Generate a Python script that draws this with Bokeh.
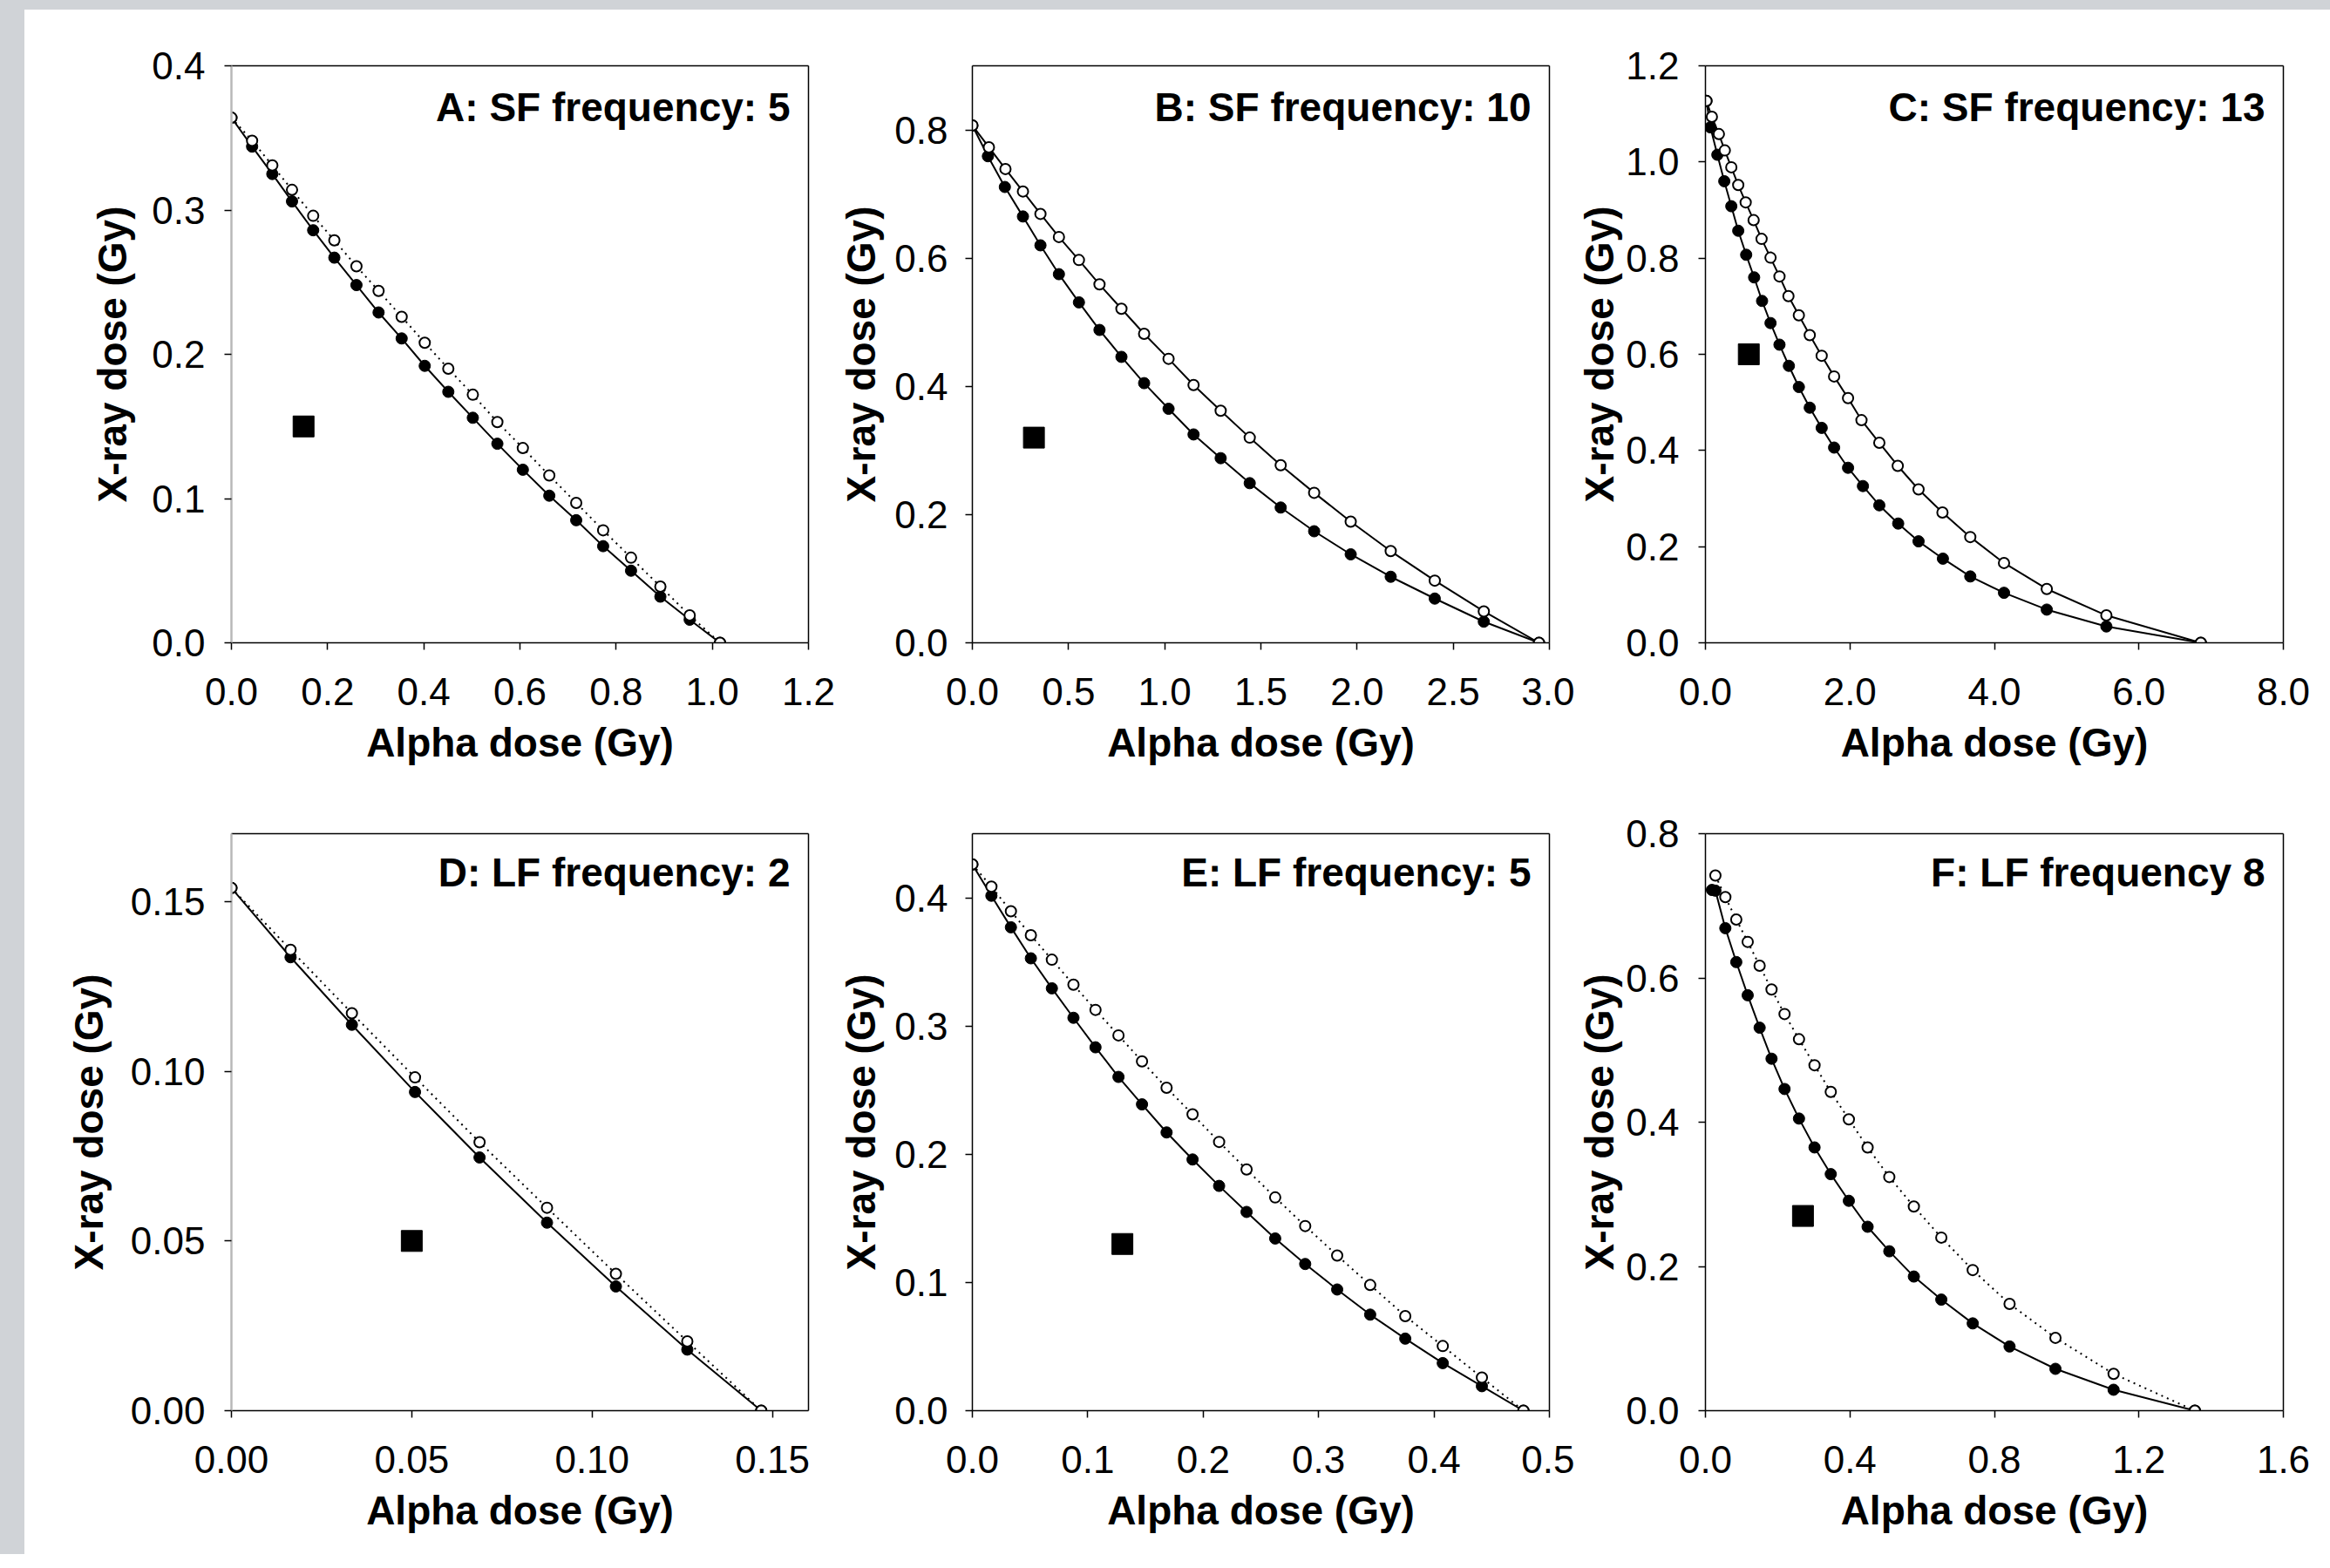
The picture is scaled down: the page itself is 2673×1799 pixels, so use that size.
from bokeh.plotting import figure
from bokeh.models import (FixedTicker, PrintfTickFormatter, Label, Range1d, Spacer,
                          LinearAxis)
from bokeh.layouts import row, column
from bokeh.embed import file_html
from bokeh.resources import INLINE

# ---------------- data ----------------
# Panel A: SF frequency 5
a_open_x = [0.0, 0.043, 0.085, 0.126, 0.170, 0.214, 0.260, 0.306, 0.354, 0.402, 0.451,
            0.502, 0.553, 0.606, 0.661, 0.717, 0.773, 0.831, 0.892, 0.953, 1.016]
a_open_y = [0.364, 0.348, 0.331, 0.314, 0.296, 0.279, 0.261, 0.244, 0.226, 0.208, 0.190,
            0.172, 0.153, 0.135, 0.116, 0.097, 0.078, 0.059, 0.039, 0.019, 0.0]
a_fill_x = a_open_x
a_fill_y = [0.364, 0.344, 0.325, 0.306, 0.286, 0.267, 0.248, 0.229, 0.211, 0.192, 0.174,
            0.156, 0.138, 0.120, 0.102, 0.085, 0.067, 0.050, 0.032, 0.016, 0.0]
a_square = (0.15, 0.15)

# Panel B: SF frequency 10
b_open_x = [0.0, 0.086, 0.172, 0.263, 0.354, 0.450, 0.554, 0.661, 0.775, 0.893, 1.020,
            1.150, 1.291, 1.442, 1.603, 1.777, 1.967, 2.175, 2.404, 2.659, 2.946]
b_open_y = [0.807, 0.773, 0.739, 0.704, 0.669, 0.633, 0.597, 0.559, 0.521, 0.482, 0.443,
            0.402, 0.362, 0.320, 0.277, 0.234, 0.189, 0.143, 0.097, 0.049, 0.0]
b_fill_x = [0.0, 0.081, 0.169, 0.263, 0.354, 0.450, 0.554, 0.661, 0.775, 0.893, 1.020,
            1.150, 1.291, 1.442, 1.603, 1.777, 1.967, 2.175, 2.404, 2.659, 2.946]
b_fill_y = [0.807, 0.759, 0.711, 0.665, 0.620, 0.575, 0.531, 0.488, 0.446, 0.405, 0.365,
            0.325, 0.288, 0.249, 0.211, 0.174, 0.138, 0.103, 0.069, 0.033, 0.0]
b_square = (0.32, 0.32)

# Panel C: SF frequency 13
c_open_x = [0.014, 0.089, 0.186, 0.268, 0.358, 0.454, 0.557, 0.667, 0.777, 0.901, 1.025,
            1.149, 1.293, 1.444, 1.609, 1.781, 1.974, 2.160, 2.407, 2.662, 2.950, 3.281,
            3.666, 4.133, 4.725, 5.550, 6.857]
c_open_y = [1.127, 1.094, 1.058, 1.024, 0.989, 0.952, 0.916, 0.879, 0.840, 0.801, 0.762,
            0.721, 0.681, 0.640, 0.597, 0.554, 0.509, 0.463, 0.416, 0.368, 0.319, 0.271,
            0.220, 0.166, 0.112, 0.057, 0.0]
c_fill_x = [0.014, 0.069, 0.165, 0.261, 0.358, 0.454, 0.564, 0.674, 0.784, 0.901, 1.025,
            1.155, 1.293, 1.444, 1.609, 1.781, 1.974, 2.180, 2.407, 2.668, 2.950, 3.287,
            3.666, 4.133, 4.725, 5.550, 6.857]
c_fill_y = [1.127, 1.072, 1.015, 0.960, 0.908, 0.857, 0.807, 0.760, 0.711, 0.665, 0.620,
            0.576, 0.532, 0.489, 0.447, 0.406, 0.364, 0.326, 0.286, 0.248, 0.211, 0.175,
            0.138, 0.104, 0.069, 0.034, 0.0]
c_square = (0.6, 0.6)

# Panel D: LF frequency 2
d_open_x = [0.0, 0.0164, 0.0334, 0.0509, 0.0688, 0.0875, 0.1066, 0.1264, 0.1469]
d_open_y = [0.154, 0.1358, 0.1171, 0.0982, 0.0791, 0.0598, 0.0403, 0.0204, 0.0]
d_fill_x = d_open_x
d_fill_y = [0.154, 0.1336, 0.1137, 0.0939, 0.0746, 0.0554, 0.0366, 0.0180, 0.0]
d_square = (0.05, 0.05)

# Panel E: LF frequency 5
e_open_x = [0.0, 0.0165, 0.0334, 0.0507, 0.0689, 0.0876, 0.1067, 0.1266, 0.1470, 0.1683,
            0.1908, 0.2138, 0.2376, 0.2624, 0.2884, 0.3161, 0.3447, 0.3751, 0.4076, 0.4415, 0.4775]
e_open_y = [0.426, 0.4087, 0.3895, 0.3708, 0.3517, 0.3322, 0.3126, 0.2927, 0.2724, 0.2518,
            0.2311, 0.2096, 0.1881, 0.1663, 0.1440, 0.1210, 0.0980, 0.0738, 0.0504, 0.0258, 0.0]
e_fill_x = e_open_x
e_fill_y = [0.426, 0.4016, 0.3770, 0.3528, 0.3294, 0.3064, 0.2834, 0.2603, 0.2389, 0.2170,
            0.1959, 0.1753, 0.1550, 0.1343, 0.1144, 0.0945, 0.0749, 0.0562, 0.0371, 0.0191, 0.0]
e_square = (0.13, 0.13)

# Panel F: LF frequency 8
f_open_x = [0.0276, 0.0551, 0.0854, 0.117, 0.150, 0.183, 0.219, 0.259, 0.302, 0.347,
            0.397, 0.449, 0.509, 0.577, 0.653, 0.740, 0.842, 0.969, 1.130, 1.355]
f_open_y = [0.742, 0.712, 0.681, 0.650, 0.617, 0.584, 0.550, 0.515, 0.479, 0.442,
            0.404, 0.365, 0.324, 0.283, 0.240, 0.195, 0.148, 0.101, 0.051, 0.0]
f_fill_x = [0.018, 0.0276, 0.0551, 0.0854, 0.117, 0.150, 0.183, 0.219, 0.259, 0.302, 0.347,
            0.397, 0.449, 0.509, 0.577, 0.653, 0.740, 0.842, 0.969, 1.130, 1.355]
f_fill_y = [0.722, 0.721, 0.669, 0.622, 0.576, 0.531, 0.488, 0.446, 0.405, 0.365, 0.328,
            0.291, 0.255, 0.221, 0.186, 0.154, 0.121, 0.089, 0.058, 0.029, 0.0]
f_square = (0.27, 0.27)

titles = ["A: SF frequency: 5", "B: SF frequency: 10", "C: SF frequency: 13",
          "D: LF frequency: 2", "E: LF frequency: 5", "F: LF frequency 8"]

x_ranges = [(0, 1.2), (0, 3.0), (0, 8.0), (0, 0.16), (0, 0.5), (0, 1.6)]
y_ranges = [(0, 0.4), (0, 0.9), (0, 1.2), (0, 0.17), (0, 0.45), (0, 0.8)]
x_ticks = [[0.0, 0.2, 0.4, 0.6, 0.8, 1.0, 1.2],
           [0.0, 0.5, 1.0, 1.5, 2.0, 2.5, 3.0],
           [0.0, 2.0, 4.0, 6.0, 8.0],
           [0.00, 0.05, 0.10, 0.15],
           [0.0, 0.1, 0.2, 0.3, 0.4, 0.5],
           [0.0, 0.4, 0.8, 1.2, 1.6]]
y_ticks = [[0.0, 0.1, 0.2, 0.3, 0.4],
           [0.0, 0.2, 0.4, 0.6, 0.8],
           [0.0, 0.2, 0.4, 0.6, 0.8, 1.0, 1.2],
           [0.00, 0.05, 0.10, 0.15],
           [0.0, 0.1, 0.2, 0.3, 0.4],
           [0.0, 0.2, 0.4, 0.6, 0.8]]
tick_fmt = ["%.1f", "%.1f", "%.1f", "%.2f", "%.1f", "%.1f"]
open_dotted = [True, False, False, True, True, True]

series = [
    (a_open_x, a_open_y, a_fill_x, a_fill_y, a_square),
    (b_open_x, b_open_y, b_fill_x, b_fill_y, b_square),
    (c_open_x, c_open_y, c_fill_x, c_fill_y, c_square),
    (d_open_x, d_open_y, d_fill_x, d_fill_y, d_square),
    (e_open_x, e_open_y, e_fill_x, e_fill_y, e_square),
    (f_open_x, f_open_y, f_fill_x, f_fill_y, f_square),
]

# ---------------- layout geometry ----------------
FONT = "Liberation Sans"
FRAME_W = [662, 662, 663]
BORDER_L = [237, 156, 150]
BORDER_R = [32, 29, 46]
ROW_TOP = [64, 56]
ROW_BOTTOM = [163, 165]
FRAME_H = 662
TITLE_BASE = [47, 44]
TITLE_RIGHT = 21
Y_TICK_STANDOFF = [22, 20, 22]
Y_LABEL_STANDOFF = [16, 9, 1, 19, 9, 1]


def spine(p, side):
    ax = LinearAxis(ticker=FixedTicker(ticks=[]), major_label_text_font_size="0px",
                    major_tick_in=0, major_tick_out=0, minor_tick_in=0, minor_tick_out=0,
                    axis_line_color="black", axis_line_width=1.5)
    p.add_layout(ax, side)


def make_panel(i):
    col, r = i % 3, i // 3
    ox, oy, fx, fy, sq = series[i]
    x0, x1 = x_ranges[i]
    y0, y1 = y_ranges[i]
    p = figure(width=BORDER_L[col] + FRAME_W[col] + BORDER_R[col],
               height=ROW_TOP[r] + FRAME_H + ROW_BOTTOM[r],
               x_range=Range1d(x0, x1), y_range=Range1d(y0, y1),
               output_backend="svg", toolbar_location=None,
               min_border_left=BORDER_L[col], min_border_right=BORDER_R[col],
               min_border_top=ROW_TOP[r], min_border_bottom=ROW_BOTTOM[r],
               background_fill_color="white", border_fill_color="white")
    p.grid.visible = False
    p.outline_line_color = None

    for ax in (p.xaxis[0], p.yaxis[0]):
        ax.major_tick_in = 0
        ax.major_tick_out = 8
        ax.minor_tick_in = 0
        ax.minor_tick_out = 0
        ax.major_tick_line_width = 1.5
        ax.axis_line_width = 1.5
        ax.major_label_text_font = FONT
        ax.major_label_text_font_size = "44px"
        ax.major_label_text_color = "black"
        ax.axis_label_text_font = FONT
        ax.axis_label_text_font_size = "46px"
        ax.axis_label_text_font_style = "bold"
        ax.axis_label_text_color = "black"
    p.xaxis.ticker = FixedTicker(ticks=x_ticks[i])
    p.yaxis.ticker = FixedTicker(ticks=y_ticks[i])
    p.xaxis.formatter = PrintfTickFormatter(format=tick_fmt[i])
    p.yaxis.formatter = PrintfTickFormatter(format=tick_fmt[i])
    p.xaxis.axis_label = "Alpha dose (Gy)"
    p.yaxis.axis_label = "X-ray dose (Gy)"
    p.xaxis.major_label_standoff = 32
    p.xaxis.axis_label_standoff = 14
    p.yaxis.major_label_standoff = Y_TICK_STANDOFF[col]
    p.yaxis.axis_label_standoff = Y_LABEL_STANDOFF[i]
    if col == 0:
        p.yaxis.axis_line_color = "#b8b8b8"
        p.yaxis.axis_line_width = 2.5
    spine(p, "above")
    spine(p, "right")

    # curves
    p.line(fx, fy, line_color="black", line_width=2)
    if open_dotted[i]:
        p.line(ox, oy, line_color="black", line_width=2, line_dash="2 5")
    else:
        p.line(ox, oy, line_color="black", line_width=2)
    p.scatter(fx, fy, marker="circle", size=13, fill_color="black", line_color="black")
    p.scatter(ox, oy, marker="circle", size=12, fill_color="white", line_color="black",
              line_width=2)
    p.scatter([sq[0]], [sq[1]], marker="square", size=24, fill_color="black",
              line_color="black")

    tx = x1 - TITLE_RIGHT / FRAME_W[col] * (x1 - x0)
    ty = y1 - TITLE_BASE[r] / FRAME_H * (y1 - y0)
    p.add_layout(Label(x=tx, y=ty, text=titles[i], text_align="right",
                       text_baseline="alphabetic", text_font=FONT,
                       text_font_style="bold", text_font_size="46px",
                       text_color="black"))
    return p


panels = [make_panel(i) for i in range(6)]

GREY = {"background-color": "#d0d3d7"}
top_strip = Spacer(width=2673, height=11, styles=GREY)
left_strip = Spacer(width=28, height=1772, styles=GREY)
grid = column(row(panels[0], panels[1], panels[2]), row(panels[3], panels[4], panels[5]))
layout = column(top_strip, row(left_strip, grid))

open("out.html", "w").write(file_html(layout, INLINE))
